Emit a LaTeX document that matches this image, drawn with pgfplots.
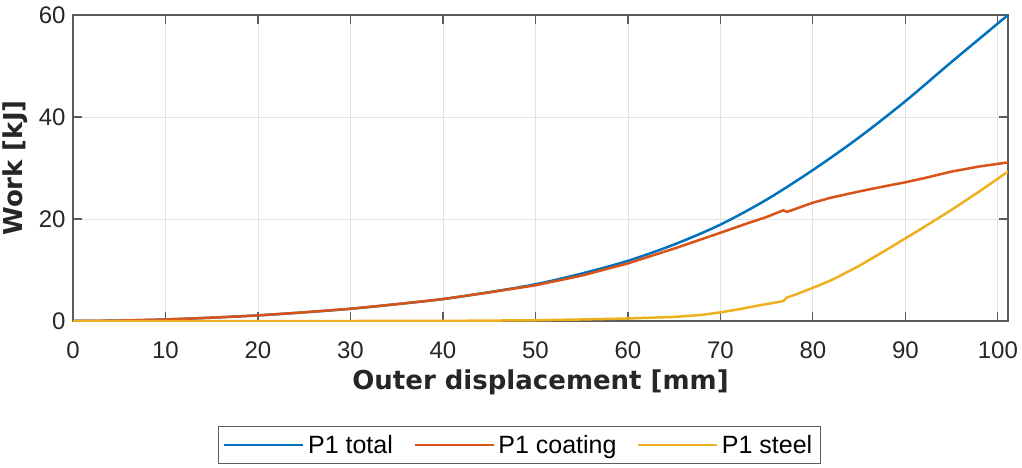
\documentclass[border=0pt]{standalone}
\usepackage{fontspec}
\setmainfont{Liberation Sans}
\newfontfamily\lblfont{DejaVu Sans}
\usepackage{pgfplots}
\pgfplotsset{compat=1.18}
\definecolor{mblue}{rgb}{0,0.447,0.741}
\definecolor{morange}{rgb}{0.85,0.325,0.098}
\definecolor{myellow}{rgb}{0.929,0.694,0.125}
\definecolor{axgray}{gray}{0.36}
\begin{document}
\begin{tikzpicture}
\begin{axis}[
  scale only axis,
  width=935pt, height=306pt,
  xmin=0, xmax=101.1, ymin=0, ymax=60,
  xtick={0,10,...,100}, ytick={0,20,40,60},
  tick align=inside,
  major tick length=9pt,
  grid=major,
  grid style={gray!22, line width=0.8pt},
  axis line style={axgray, line width=1.2pt},
  tick style={axgray, line width=1.2pt},
  every tick label/.append style={text=black!85},
  /pgf/number format/assume math mode=true,
  tick label style={font=\fontsize{24}{28}\selectfont},
  xticklabel style={yshift=-17pt},
  yticklabel style={xshift=-4pt},
  xlabel={\lblfont\bfseries Outer displacement [mm]},
  ylabel={\lblfont\bfseries Work [kJ]},
  label style={font=\fontsize{26}{30}\selectfont, text=black!85},
  xlabel style={at={(axis description cs:0.5,0)}, anchor=center, yshift=-61pt},
  ylabel style={at={(axis description cs:0,0.5)}, anchor=center, yshift=58pt},
  legend columns=3,
  legend style={at={(0.4775,-0.343)}, anchor=north, draw=axgray, line width=1pt,
    font=\fontsize{25}{29}\selectfont, text=black,
    /tikz/every even column/.append style={column sep=17pt},
    nodes={inner sep=3.5pt},
    inner sep=5pt},
  legend image code/.code={\draw[#1, line width=2.5pt] (0pt,0pt) -- (79pt,0pt);},
]
\addplot[mblue, line width=2.5pt, smooth] coordinates {
(0,0) (5,0.08) (10,0.3) (15,0.65) (20,1.1) (25,1.7) (30,2.4) (35,3.3) (40,4.3)
(45,5.65) (50,7.2) (55,9.3) (60,11.8) (65,15.0) (70,18.9) (75,23.8) (80,29.6)
(85,36.0) (90,43.1) (95,50.8) (101.1,60.0)};
\addlegendentry{P1 total}
\addplot[morange, line width=2.5pt] coordinates {
(0,0) (5,0.08) (10,0.3) (15,0.65) (20,1.1) (25,1.7) (30,2.4) (35,3.3) (40,4.3)
(45,5.6) (50,7.0) (55,8.9) (60,11.3) (65,14.2) (70,17.3) (73,19.2) (75,20.4)
(76.8,21.7) (77.2,21.4) (78,21.9) (80,23.2) (82,24.2) (85,25.4) (88,26.5)
(90,27.2) (92,28.0) (95,29.3) (98,30.3) (101.1,31.1)};
\addlegendentry{P1 coating}
\addplot[myellow, line width=2.5pt] coordinates {
(0,0) (30,0) (40,0.02) (45,0.08) (50,0.15) (55,0.3) (60,0.5) (65,0.8) (68,1.2)
(70,1.7) (72,2.3) (74,3.0) (76.8,3.9) (77.2,4.6) (78,5.1) (80,6.5) (82,8.0)
(85,10.8) (88,14.0) (90,16.2) (92,18.4) (95,21.8) (98,25.4) (101.1,29.3)};
\addlegendentry{P1 steel}
\end{axis}
\pgfresetboundingbox
\useasboundingbox (-73pt,-146pt) rectangle (949pt,321pt);
\end{tikzpicture}
\end{document}
